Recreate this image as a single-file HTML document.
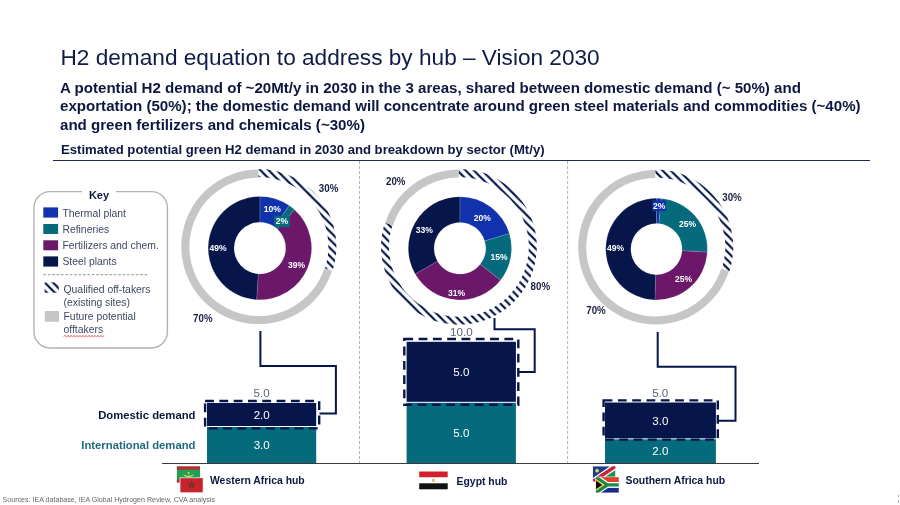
<!DOCTYPE html>
<html><head><meta charset="utf-8"><title>H2 demand equation to address by hub</title>
<style>
html,body{margin:0;padding:0;background:#fff}
body{width:900px;height:505px;position:relative;overflow:hidden;font-family:"Liberation Sans",sans-serif;color:#0f1b45}
.abs{position:absolute;white-space:nowrap}
h1{margin:0;font-weight:normal;font-size:22.63px;line-height:26px;left:60.5px;top:44.5px;color:#101b48}
.sub{font-weight:bold;font-size:15.1px;line-height:18.3px;left:60px;top:79px;color:#0d1842}
.est{font-weight:bold;font-size:13.13px;line-height:15px;left:61px;top:141.5px;color:#0d1842}
svg{position:absolute;left:0;top:0}
svg text{font-family:"Liberation Sans",sans-serif;text-anchor:middle}
.tot{font-size:11.6px;fill:#5b6475}
.bv{font-size:11.6px;fill:#fff}
.op{font-size:10.6px;font-weight:bold;fill:#171f42}
.sp{font-size:9.1px;font-weight:bold;fill:#fff}
.k{font-size:10.4px;line-height:12px;color:#3c4863}
.kt{font-size:11px;font-weight:bold;color:#0d1842;left:82px;width:34px;text-align:center;top:189px;line-height:13px}
.rl{font-size:11.3px;font-weight:bold;line-height:13px;text-align:right;width:180px;left:15.5px}
.hub{font-size:10.4px;font-weight:bold;line-height:13px;color:#0d1842}
.src{font-size:7.1px;line-height:9px;color:#666;left:2.6px;top:496.2px}
</style></head><body>
<svg width="900" height="505" viewBox="0 0 900 505">
<defs><pattern id="hatch" width="8.2" height="8.2" patternUnits="userSpaceOnUse"><rect width="8.2" height="8.2" fill="#fff"/><path d="M-2 -2L10.2 10.2M-2 6.199999999999999L2 10.2M6.199999999999999 -2L10.2 2" stroke="#06164a" stroke-width="2.1" fill="none"/></pattern></defs>
<line x1="359.5" y1="161" x2="359.5" y2="463" stroke="#b4b4b4" stroke-width="1" stroke-dasharray="3 2"/>
<line x1="567.6" y1="161" x2="567.6" y2="463" stroke="#b4b4b4" stroke-width="1" stroke-dasharray="3 2"/>
<line x1="53" y1="160.5" x2="870" y2="160.5" stroke="#1d2a55" stroke-width="1"/>
<polyline points="260.4,331 260.4,366 335.9,366 335.9,413.6 319.5,413.6" fill="none" stroke="#06164a" stroke-width="2"/>
<polyline points="494.5,318 494.5,329.2 534.7,329.2 534.7,372 519,372" fill="none" stroke="#06164a" stroke-width="2"/>
<polyline points="657.7,332 657.7,366.8 735.5,366.8 735.5,420.8 719,420.8" fill="none" stroke="#06164a" stroke-width="2"/>
<path d="M332.12 270.69A77.3 77.3 0 1 1 258.60 169.50L258.60 177.60A69.2 69.2 0 1 0 324.41 268.18Z" fill="#c6c6c6" />
<path d="M258.60 169.00A77.8 77.8 0 0 1 332.59 270.84L324.98 268.37A69.8 69.8 0 0 0 258.60 177.00Z" fill="url(#hatch)" />
<path d="M259.90 196.40A51.7 51.7 0 0 1 289.23 205.52L274.54 226.85A25.8 25.8 0 0 0 259.90 222.30Z" fill="#1033ad" stroke="#ffffff" stroke-opacity="0.25" stroke-width="0.5"/>
<path d="M289.23 205.52A51.7 51.7 0 0 1 294.57 209.75L277.20 228.96A25.8 25.8 0 0 0 274.54 226.85Z" fill="#066a7d" stroke="#ffffff" stroke-opacity="0.25" stroke-width="0.5"/>
<path d="M294.57 209.75A51.7 51.7 0 0 1 256.65 299.70L258.28 273.85A25.8 25.8 0 0 0 277.20 228.96Z" fill="#6b176a" stroke="#ffffff" stroke-opacity="0.25" stroke-width="0.5"/>
<path d="M256.65 299.70A51.7 51.7 0 0 1 259.90 196.40L259.90 222.30A25.8 25.8 0 0 0 258.28 273.85Z" fill="#06164a" stroke="#ffffff" stroke-opacity="0.25" stroke-width="0.5"/>
<path d="M385.29 222.88A77.4 77.4 0 0 1 458.90 169.40L458.90 177.50A69.30000000000001 69.30000000000001 0 0 0 392.99 225.39Z" fill="#c6c6c6" />
<path d="M458.90 168.90A77.9 77.9 0 1 1 384.81 222.73L392.42 225.20A69.9 69.9 0 1 0 458.90 176.90Z" fill="url(#hatch)" />
<path d="M459.90 196.70A51.6 51.6 0 0 1 509.36 233.59L484.63 240.95A25.8 25.8 0 0 0 459.90 222.50Z" fill="#1033ad" stroke="#ffffff" stroke-opacity="0.25" stroke-width="0.5"/>
<path d="M509.36 233.59A51.6 51.6 0 0 1 500.47 280.18L480.19 264.24A25.8 25.8 0 0 0 484.63 240.95Z" fill="#066a7d" stroke="#ffffff" stroke-opacity="0.25" stroke-width="0.5"/>
<path d="M500.47 280.18A51.6 51.6 0 0 1 415.16 274.01L437.53 261.15A25.8 25.8 0 0 0 480.19 264.24Z" fill="#6b176a" stroke="#ffffff" stroke-opacity="0.25" stroke-width="0.5"/>
<path d="M415.16 274.01A51.6 51.6 0 0 1 459.90 196.70L459.90 222.50A25.8 25.8 0 0 0 437.53 261.15Z" fill="#06164a" stroke="#ffffff" stroke-opacity="0.25" stroke-width="0.5"/>
<path d="M729.02 271.09A77.3 77.3 0 1 1 655.50 169.90L655.50 178.00A69.2 69.2 0 1 0 721.31 268.58Z" fill="#c6c6c6" />
<path d="M655.50 169.40A77.8 77.8 0 0 1 729.49 271.24L721.88 268.77A69.8 69.8 0 0 0 655.50 177.40Z" fill="url(#hatch)" />
<path d="M656.50 198.20A50.9 50.9 0 0 1 661.29 198.43L658.91 223.61A25.6 25.6 0 0 0 656.50 223.50Z" fill="#1033ad" stroke="#ffffff" stroke-opacity="0.25" stroke-width="0.5"/>
<path d="M661.29 198.43A50.9 50.9 0 0 1 707.30 252.30L682.05 250.71A25.6 25.6 0 0 0 658.91 223.61Z" fill="#066a7d" stroke="#ffffff" stroke-opacity="0.25" stroke-width="0.5"/>
<path d="M707.30 252.30A50.9 50.9 0 0 1 654.90 299.97L655.70 274.69A25.6 25.6 0 0 0 682.05 250.71Z" fill="#6b176a" stroke="#ffffff" stroke-opacity="0.25" stroke-width="0.5"/>
<path d="M654.90 299.97A50.9 50.9 0 0 1 656.50 198.20L656.50 223.50A25.6 25.6 0 0 0 655.70 274.69Z" fill="#06164a" stroke="#ffffff" stroke-opacity="0.25" stroke-width="0.5"/>
<rect x="207" y="403" width="109.2" height="23.0" fill="#06164a"/>
<rect x="207" y="427" width="109.2" height="36.0" fill="#066a7d"/>
<rect x="406.6" y="341.8" width="109.3" height="60.0" fill="#06164a"/>
<rect x="406.6" y="402.8" width="109.3" height="60.2" fill="#066a7d"/>
<rect x="605" y="402.5" width="110.9" height="35.8" fill="#06164a"/>
<rect x="605" y="439.3" width="110.9" height="23.7" fill="#066a7d"/>
<rect x="205.1" y="401" width="114.1" height="27.4" fill="none" stroke="#06164a" stroke-width="2.4" stroke-dasharray="8.8 5.5"/>
<rect x="404.3" y="339" width="114.0" height="65.8" fill="none" stroke="#06164a" stroke-width="2.4" stroke-dasharray="8.8 5.5"/>
<rect x="603.6" y="400.4" width="114.2" height="39.2" fill="none" stroke="#06164a" stroke-width="2.4" stroke-dasharray="8.8 5.5"/>
<line x1="162" y1="463.5" x2="759" y2="463.5" stroke="#3a3a3a" stroke-width="1.1"/>
<text transform="translate(261.6 397.1) scale(1 1)" class="tot">5.0</text>
<text transform="translate(261.7 418.9) scale(1 1)" class="bv">2.0</text>
<text transform="translate(261.7 449.4) scale(1 1)" class="bv">3.0</text>
<text transform="translate(461.3 336.0) scale(1 1)" class="tot">10.0</text>
<text transform="translate(461.3 376.3) scale(1 1)" class="bv">5.0</text>
<text transform="translate(461.3 436.9) scale(1 1)" class="bv">5.0</text>
<text transform="translate(660.2 397.2) scale(1 1)" class="tot">5.0</text>
<text transform="translate(660.4 424.6) scale(1 1)" class="bv">3.0</text>
<text transform="translate(660.4 455.4) scale(1 1)" class="bv">2.0</text>
<text transform="translate(328.6 192.3) scale(0.92 1)" class="op">30%</text>
<text transform="translate(202.8 321.7) scale(0.92 1)" class="op">70%</text>
<text transform="translate(395.7 185.2) scale(0.92 1)" class="op">20%</text>
<text transform="translate(540.3 290.3) scale(0.92 1)" class="op">80%</text>
<text transform="translate(732.0 200.5) scale(0.92 1)" class="op">30%</text>
<text transform="translate(596.0 313.5) scale(0.92 1)" class="op">70%</text>
<rect x="274.2" y="215.7" width="15.6" height="11.4" fill="#066a7d"/>
<rect x="652.3" y="200.3" width="13.6" height="10.9" fill="#1033ad"/>
<text transform="translate(272.2 212.3) scale(0.94 1)" class="sp">10%</text>
<text transform="translate(281.9 224.2) scale(0.94 1)" class="sp">2%</text>
<text transform="translate(296.5 268.0) scale(0.94 1)" class="sp">39%</text>
<text transform="translate(218.1 250.9) scale(0.94 1)" class="sp">49%</text>
<text transform="translate(482.3 220.6) scale(0.94 1)" class="sp">20%</text>
<text transform="translate(499.0 259.8) scale(0.94 1)" class="sp">15%</text>
<text transform="translate(456.6 295.6) scale(0.94 1)" class="sp">31%</text>
<text transform="translate(424.2 233.1) scale(0.94 1)" class="sp">33%</text>
<text transform="translate(659.1 208.6) scale(0.94 1)" class="sp">2%</text>
<text transform="translate(687.6 227.0) scale(0.94 1)" class="sp">25%</text>
<text transform="translate(683.5 282.3) scale(0.94 1)" class="sp">25%</text>
<text transform="translate(615.6 251.0) scale(0.94 1)" class="sp">49%</text>
<rect x="34" y="191.6" width="133.4" height="156.4" rx="16" ry="16" fill="#fff" stroke="#b2b2b2" stroke-width="1.4"/>
<rect x="82" y="188" width="34" height="8" fill="#fff"/>
<rect x="43.3" y="207.4" width="14.8" height="10.2" fill="#1033ad"/>
<rect x="43.3" y="224" width="14.8" height="10" fill="#066a7d"/>
<rect x="43.3" y="240.3" width="14.8" height="10" fill="#6b176a"/>
<rect x="43.3" y="256.4" width="14.8" height="10.2" fill="#06164a"/>
<line x1="43.4" y1="274.7" x2="148" y2="274.7" stroke="#a8a8a8" stroke-width="1.3" stroke-dasharray="2.6 1.8"/>
<rect x="44.6" y="282.4" width="14.2" height="10.4" fill="url(#hatch)"/>
<rect x="44.8" y="311" width="14.2" height="10.8" fill="#c6c6c6"/>
<path d="M63.5 336.3L65.0 335.3L66.5 337.1L68.0 335.3L69.5 337.1L71.0 335.3L72.5 337.1L74.0 335.3L75.5 337.1L77.0 335.3L78.5 337.1L80.0 335.3L81.5 337.1L83.0 335.3L84.5 337.1L86.0 335.3L87.5 337.1L89.0 335.3L90.5 337.1L92.0 335.3L93.5 337.1L95.0 335.3L96.5 337.1L98.0 335.3L99.5 337.1L101.0 335.3L102.5 337.1L104.0 335.3" fill="none" stroke="#e03030" stroke-width="0.7"/>
<rect x="898" y="495" width="1" height="2" fill="#aaa"/><rect x="898" y="500.5" width="1" height="2.5" fill="#aaa"/>
<g><rect x="176.9" y="466.5" width="23.1" height="16" fill="#1fa055"/><rect x="176.9" y="466.5" width="23.1" height="3.1" fill="#c4272d"/><rect x="176.9" y="479.4" width="23.1" height="3.1" fill="#c4272d"/><path d="M182.8 473.6a5.9 4.2 0 0 0 11.6 0a6 2.9 0 0 1 -11.6 0Z" fill="#d9e05a"/><circle cx="188.6" cy="472.9" r="1" fill="#d9e05a"/></g>
<g><rect x="180" y="477.8" width="23.1" height="15" fill="#c8222d" stroke="#fff" stroke-width="0.7"/><path d="M191.5 481.6l0.8 2.4h2.5l-2 1.5 0.8 2.4-2.1-1.5-2.1 1.5 0.8-2.4-2-1.5h2.5z" fill="#8a2a28" stroke="#5b3a2a" stroke-width="0.9" stroke-linejoin="round"/></g>
<g><rect x="419.2" y="471.5" width="28.5" height="6" fill="#d2212b"/><rect x="419.2" y="477.5" width="28.5" height="6" fill="#fff"/><rect x="419.2" y="483.3" width="28.5" height="6" fill="#111"/><rect x="432.3" y="478.9" width="2.3" height="3" fill="#d1b45a"/></g>
<g><clipPath id="nam"><rect x="592.8" y="466.2" width="22.7" height="15.4"/></clipPath><g clip-path="url(#nam)"><rect x="592.8" y="466.2" width="22.7" height="15.4" fill="#fff"/><path d="M592.8 466.2h17.25L592.8 477.90z" fill="#1b3a8e"/><path d="M615.5 481.59999999999997h-17.25L615.5 469.90z" fill="#1f9150"/><path d="M592.8 481.59999999999997L615.5 466.2" stroke="#c9223a" stroke-width="3.5"/><circle cx="597.1" cy="470.7" r="1.9" fill="#d3d650"/></g></g>
<g><clipPath id="sa"><rect x="595.7" y="476.9" width="23.3" height="16.0"/></clipPath><g clip-path="url(#sa)"><rect x="595.7" y="476.9" width="23.3" height="16.0" fill="#fff"/><rect x="595.7" y="476.9" width="23.3" height="5.3" fill="#e0402f"/><rect x="595.7" y="487.59999999999997" width="23.3" height="5.3" fill="#1c2b8f"/><path d="M594.5 476.09999999999997L607.35 484.9L594.5 493.7M607.35 484.9H620.0" fill="none" stroke="#fff" stroke-width="5.6"/><path d="M594.5 476.09999999999997L607.35 484.9L594.5 493.7M607.35 484.9H620.0" fill="none" stroke="#1d8a45" stroke-width="3.3"/><path d="M595.7 479.09999999999997L604.15 484.9L595.7 490.7z" fill="#f0c030"/><path d="M595.7 480.5L602.15 484.9L595.7 489.29999999999995z" fill="#0a0a0a"/></g><rect x="595.7" y="476.9" width="23.3" height="16.0" fill="none" stroke="#fff" stroke-width="0.5"/></g>
</svg>
<h1 class="abs">H2 demand equation to address by hub – Vision 2030</h1>
<div class="abs sub">A potential H2 demand of ~20Mt/y in 2030 in the 3 areas, shared between domestic demand (~ 50%) and<br>exportation (50%); the domestic demand will concentrate around green steel materials and commodities (~40%)<br>and green fertilizers and chemicals (~30%)</div>
<div class="abs est">Estimated potential green H2 demand in 2030 and breakdown by sector (Mt/y)</div>
<div class="abs kt">Key</div>
<div class="abs k" style="left:62.4px;top:208px">Thermal plant</div>
<div class="abs k" style="left:62.4px;top:224px">Refineries</div>
<div class="abs k" style="left:62.4px;top:239.9px">Fertilizers and chem.</div>
<div class="abs k" style="left:62.4px;top:256.3px">Steel plants</div>
<div class="abs k" style="left:63.5px;top:283.6px;line-height:12.9px">Qualified off-takers<br>(existing sites)</div>
<div class="abs k" style="left:63.5px;top:311.2px;line-height:12.5px">Future potential<br>offtakers</div>
<div class="abs rl" style="top:408.9px;color:#0e1638">Domestic demand</div>
<div class="abs rl" style="top:438.9px;color:#1f6b7c">International demand</div>
<div class="abs hub" style="left:210px;top:473.5px">Western Africa hub</div>
<div class="abs hub" style="left:456.6px;top:474.5px">Egypt hub</div>
<div class="abs hub" style="left:625.6px;top:474px">Southern Africa hub</div>
<div class="abs src">Sources: IEA database, IEA Global Hydrogen Review, CVA analysis</div>
</body></html>
